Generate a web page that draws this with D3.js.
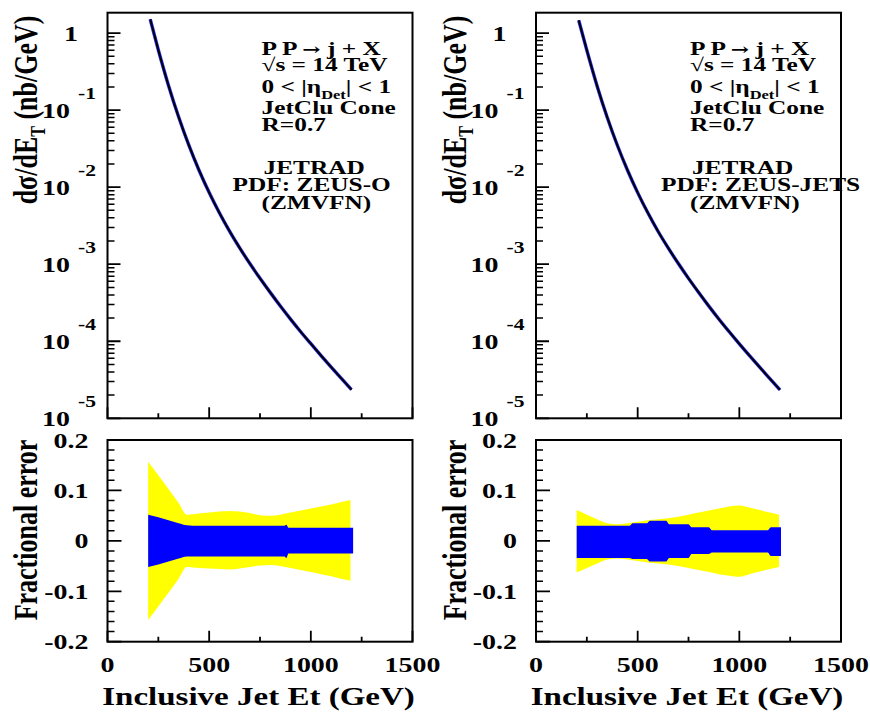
<!DOCTYPE html>
<html>
<head>
<meta charset="utf-8">
<script src="https://cdn.jsdelivr.net/npm/d3@7"></script>
<style>
  body { margin: 0; background: #fff; }
  svg { display: block; }
  text { font-family: "Liberation Serif", "Times New Roman", serif; font-weight: bold; fill: #000; }
</style>
</head>
<body>
<svg id="chart" width="870" height="713"></svg>
<script>
// ---- Inclusive jet cross section, pp at 14 TeV, |eta| < 1 (nb/GeV) ----
const etSpectrum = [210, 250, 300, 350, 400, 450, 500, 550, 600, 650, 700,
                    750, 800, 850, 900, 950, 1000, 1050, 1100, 1150, 1200];
const xsecZeusO = [1.514, 0.603, 0.209, 0.0813, 0.0351, 0.0166, 0.00851, 0.00466,
                   0.00269, 0.00163, 0.00102, 0.000656, 0.000431, 0.000287, 0.000194,
                   0.000133, 0.0000929, 0.0000653, 0.0000462, 0.0000329, 0.0000235];
const xsecZeusJets = [1.47, 0.598, 0.208, 0.0810, 0.0350, 0.0166, 0.00850, 0.00465,
                      0.00268, 0.00163, 0.00102, 0.000655, 0.000430, 0.000286, 0.000193,
                      0.000133, 0.0000925, 0.0000650, 0.0000460, 0.0000328, 0.0000234];

// ---- Fractional PDF uncertainties, ZEUS-O fit ----
// total (yellow)
const etTotO  = [200, 250, 300, 350, 390, 450, 500, 550, 600, 650, 700,
                 750, 800, 850, 900, 950, 1000, 1050, 1100, 1150, 1195];
const totUpO  = [0.157, 0.130, 0.103, 0.075, 0.052, 0.054, 0.056, 0.058, 0.059, 0.058, 0.055,
                 0.051, 0.050, 0.052, 0.056, 0.060, 0.064, 0.068, 0.072, 0.077, 0.081];
const totDnO  = [-0.157, -0.130, -0.103, -0.075, -0.052, -0.054, -0.055, -0.056, -0.057, -0.055, -0.052,
                 -0.049, -0.048, -0.050, -0.054, -0.058, -0.062, -0.066, -0.070, -0.075, -0.079];
// experimental (blue)
const etExpO  = [200, 250, 300, 350, 390, 450, 500, 550, 600, 650, 700, 750, 800,
                 850, 870, 880, 890, 900, 950, 1000, 1050, 1100, 1150, 1208];
const expUpO  = [0.052, 0.047, 0.041, 0.035, 0.031, 0.030, 0.030, 0.030, 0.030, 0.030, 0.030, 0.030, 0.030,
                 0.030, 0.030, 0.032, 0.026, 0.026, 0.026, 0.026, 0.026, 0.026, 0.026, 0.026];
const expDnO  = [-0.052, -0.047, -0.041, -0.035, -0.031, -0.031, -0.031, -0.031, -0.031, -0.031, -0.031, -0.031, -0.031,
                 -0.031, -0.031, -0.034, -0.025, -0.025, -0.025, -0.025, -0.025, -0.025, -0.025, -0.025];

// ---- Fractional PDF uncertainties, ZEUS-JETS fit ----
const etTotJ  = [200, 250, 300, 350, 400, 450, 500, 550, 600, 650, 700,
                 750, 800, 850, 900, 950, 1000, 1050, 1100, 1150, 1195];
const totUpJ  = [0.061, 0.052, 0.043, 0.035, 0.033, 0.035, 0.038, 0.041, 0.043, 0.045, 0.048,
                 0.052, 0.056, 0.060, 0.064, 0.068, 0.070, 0.066, 0.061, 0.056, 0.052];
const totDnJ  = [-0.063, -0.054, -0.045, -0.037, -0.035, -0.037, -0.040, -0.043, -0.045, -0.047, -0.050,
                 -0.054, -0.058, -0.062, -0.066, -0.069, -0.071, -0.066, -0.061, -0.056, -0.052];
const etExpJ  = [200, 460, 475, 545, 560, 640, 655, 750, 765, 850, 865, 1140, 1155, 1205];
const expUpJ  = [0.030, 0.030, 0.035, 0.035, 0.040, 0.040, 0.033, 0.033, 0.027, 0.027, 0.021, 0.021, 0.027, 0.027];
const expDnJ  = [-0.034, -0.034, -0.036, -0.036, -0.041, -0.041, -0.034, -0.034, -0.026, -0.026, -0.023, -0.023, -0.030, -0.030];

// ---- Axis settings ----
const etDomain = [0, 1500];
const etTickLabels = [0, 500, 1000, 1500];
const etMajorTicks = [0, 500, 1000, 1500];
const etMinorTicks = [250, 750, 1250];
const xsecDomain = [1e-5, 1.84];
const xsecDecades = [0, -1, -2, -3, -4, -5];
const fracDomain = [-0.2, 0.2];
const fracTickLabels = [0.2, 0.1, 0, -0.1, -0.2];

const infoLines = ["\u221As = 14 TeV", "JetClu Cone", "R=0.7"];

// ---- Layout ----
const SX = 1.27;               // horizontal glyph stretch
const W = 305;
const topY = [12.7, 418.3];
const botY = [440, 641.7];

const svg = d3.select("#chart");

const panels = [
  { x0: 107.5, xsec: xsecZeusO, etTot: etTotO, totUp: totUpO, totDn: totDnO,
    etExp: etExpO, expUp: expUpO, expDn: expDnO, pdf: "PDF: ZEUS-O" },
  { x0: 536, xsec: xsecZeusJets, etTot: etTotJ, totUp: totUpJ, totDn: totDnJ,
    etExp: etExpJ, expUp: expUpJ, expDn: expDnJ, pdf: "PDF: ZEUS-JETS" }
];

function label(g, x, y, str, size, anchor, sx) {
  return g.append("text")
    .attr("transform", `translate(${x},${y}) scale(${sx || SX},1)`)
    .attr("text-anchor", anchor || "start")
    .style("font-size", size + "px")
    .text(str);
}

// inward tick marks on a vertical axis at x = x0, as one path
function vTicks(g, scale, vals, x0, len, width) {
  const pth = d3.path();
  vals.forEach(v => { const y = scale(v); pth.moveTo(x0, y); pth.lineTo(x0 + len, y); });
  g.append("path").attr("d", pth.toString())
    .attr("fill", "none").attr("stroke", "#000").attr("stroke-width", width);
}
// inward tick marks on a horizontal axis at y = y0, as one path
function hTicks(g, scale, vals, y0, len, width) {
  const pth = d3.path();
  vals.forEach(v => { const x = scale(v); pth.moveTo(x, y0); pth.lineTo(x, y0 - len); });
  g.append("path").attr("d", pth.toString())
    .attr("fill", "none").attr("stroke", "#000").attr("stroke-width", width);
}

panels.forEach((p, i) => {
  const g = svg.append("g");
  const x = d3.scaleLinear(etDomain, [p.x0, p.x0 + W]);
  const yTop = d3.scaleLog(xsecDomain, [topY[1], topY[0]]);
  const yBot = d3.scaleLinear(fracDomain, [botY[1], botY[0]]);

  // clip regions
  const clipTop = `clipTop${i}`, clipBot = `clipBot${i}`;
  const defs = g.append("defs");
  defs.append("clipPath").attr("id", clipTop).append("rect")
    .attr("x", p.x0).attr("y", topY[0]).attr("width", W).attr("height", topY[1] - topY[0]);
  defs.append("clipPath").attr("id", clipBot).append("rect")
    .attr("x", p.x0).attr("y", botY[0]).attr("width", W).attr("height", botY[1] - botY[0]);

  // ---- upper panel: cross section ----
  const spec = etSpectrum.map((et, k) => ({ et, v: p.xsec[k] }));
  const curve = d3.line().x(d => x(d.et)).y(d => yTop(d.v)).curve(d3.curveMonotoneX);
  const upper = g.append("g").attr("clip-path", `url(#${clipTop})`);
  upper.append("path").datum(spec).attr("d", curve)
    .attr("fill", "none").attr("stroke", "#2a2aff").attr("stroke-width", 3.4);
  upper.append("path").datum(spec).attr("d", curve)
    .attr("fill", "none").attr("stroke", "#000").attr("stroke-width", 2);

  // ---- lower panel: fractional uncertainty bands ----
  const lower = g.append("g").attr("clip-path", `url(#${clipBot})`);
  const band = d3.area().x(d => x(d.et)).y0(d => yBot(d.dn)).y1(d => yBot(d.up))
    .curve(d3.curveMonotoneX);
  const tot = p.etTot.map((et, k) => ({ et, up: p.totUp[k], dn: p.totDn[k] }));
  const ex = p.etExp.map((et, k) => ({ et, up: p.expUp[k], dn: p.expDn[k] }));
  lower.append("path").datum(tot).attr("d", band).attr("fill", "#ffff00");
  lower.append("path").datum(ex).attr("d", band).attr("fill", "#0000ff");

  // ---- frames ----
  [topY, botY].forEach(([a, b]) => {
    g.append("rect").attr("x", p.x0).attr("y", a).attr("width", W).attr("height", b - a)
      .attr("fill", "none").attr("stroke", "#000").attr("stroke-width", 2);
  });

  // ---- ticks ----
  const decadeVals = xsecDecades.map(n => Math.pow(10, n));
  const logMinor = d3.range(-5, 0).flatMap(n => d3.range(2, 10).map(k => k * Math.pow(10, n)));
  vTicks(g, yTop, decadeVals, p.x0, 13, 1.8);
  vTicks(g, yTop, logMinor, p.x0, 7, 1.5);

  const fracMajor = [-0.2, -0.1, 0, 0.1, 0.2];
  const fracMinor = d3.range(-9, 10).filter(k => k % 5 !== 0).map(k => k * 0.02);
  vTicks(g, yBot, fracMajor, p.x0, 14, 1.8);
  vTicks(g, yBot, fracMinor, p.x0, 7, 1.5);

  [topY[1], botY[1]].forEach(yb => {
    hTicks(g, x, etMajorTicks, yb, 11, 1.8);
    hTicks(g, x, etMinorTicks, yb, 5, 1.8);
  });

  // ---- tick labels ----
  xsecDecades.forEach(n => {
    const ty = yTop(Math.pow(10, n));
    if (n === 0) {
      label(g, p.x0 - 29.5, ty + 7.5, "1", 22, "end");
    } else {
      label(g, p.x0 - 37.5, ty + 7.5, "10", 22, "end");
      label(g, p.x0 - 29.5, ty - 11, String(n), 17, "start");
    }
  });
  fracTickLabels.forEach(v => {
    label(g, p.x0 - 19, yBot(v) + 7.5, String(v), 22, "end");
  });
  etTickLabels.forEach(v => {
    label(g, x(v), 672, String(v), 22, "middle");
  });

  // ---- axis titles ----
  const yt1 = g.append("text")
    .attr("transform", `translate(${p.x0 - 70.5},110) scale(${SX},1) rotate(-90)`)
    .attr("text-anchor", "middle").style("font-size", "26px");
  yt1.append("tspan").text("d\u03C3/dE");
  yt1.append("tspan").attr("dy", 6).style("font-size", "16px").text("T");
  yt1.append("tspan").attr("dy", -6).text(" (nb/GeV)");

  g.append("text")
    .attr("transform", `translate(${p.x0 - 70.5},530) scale(${SX},1) rotate(-90)`)
    .attr("text-anchor", "middle").style("font-size", "26px")
    .text("Fractional error");

  label(g, p.x0 + 151, 705, "Inclusive Jet Et (GeV)", 26, "middle");

  // ---- info text ----
  const fs = 18.5, sxi = 1.37;
  const tx = p.x0 + 154;
  const proc = label(g, tx, 55, "", fs, "start", sxi);
  proc.append("tspan").text("P P ");
  proc.append("tspan").style("font-family", "'DejaVu Serif', serif").style("font-size", "16px").text("\u2192");
  proc.append("tspan").text(" j + X");
  label(g, tx, 71, infoLines[0], fs, "start", sxi);
  const eta = label(g, tx, 93, "", fs, "start", sxi);
  eta.append("tspan").text("0 < |\u03B7");
  eta.append("tspan").attr("dy", 6).style("font-size", "12px").text("Det");
  eta.append("tspan").attr("dy", -6).text("| < 1");
  label(g, tx, 114, infoLines[1], fs, "start", sxi);
  label(g, tx, 131, infoLines[2], fs, "start", sxi);
  label(g, p.x0 + 156, 174, "JETRAD", fs, "start", sxi);
  label(g, p.x0 + 125, 191, p.pdf, fs, "start", sxi);
  label(g, p.x0 + 154, 209, "(ZMVFN)", fs, "start", sxi);
});
</script>
</body>
</html>
